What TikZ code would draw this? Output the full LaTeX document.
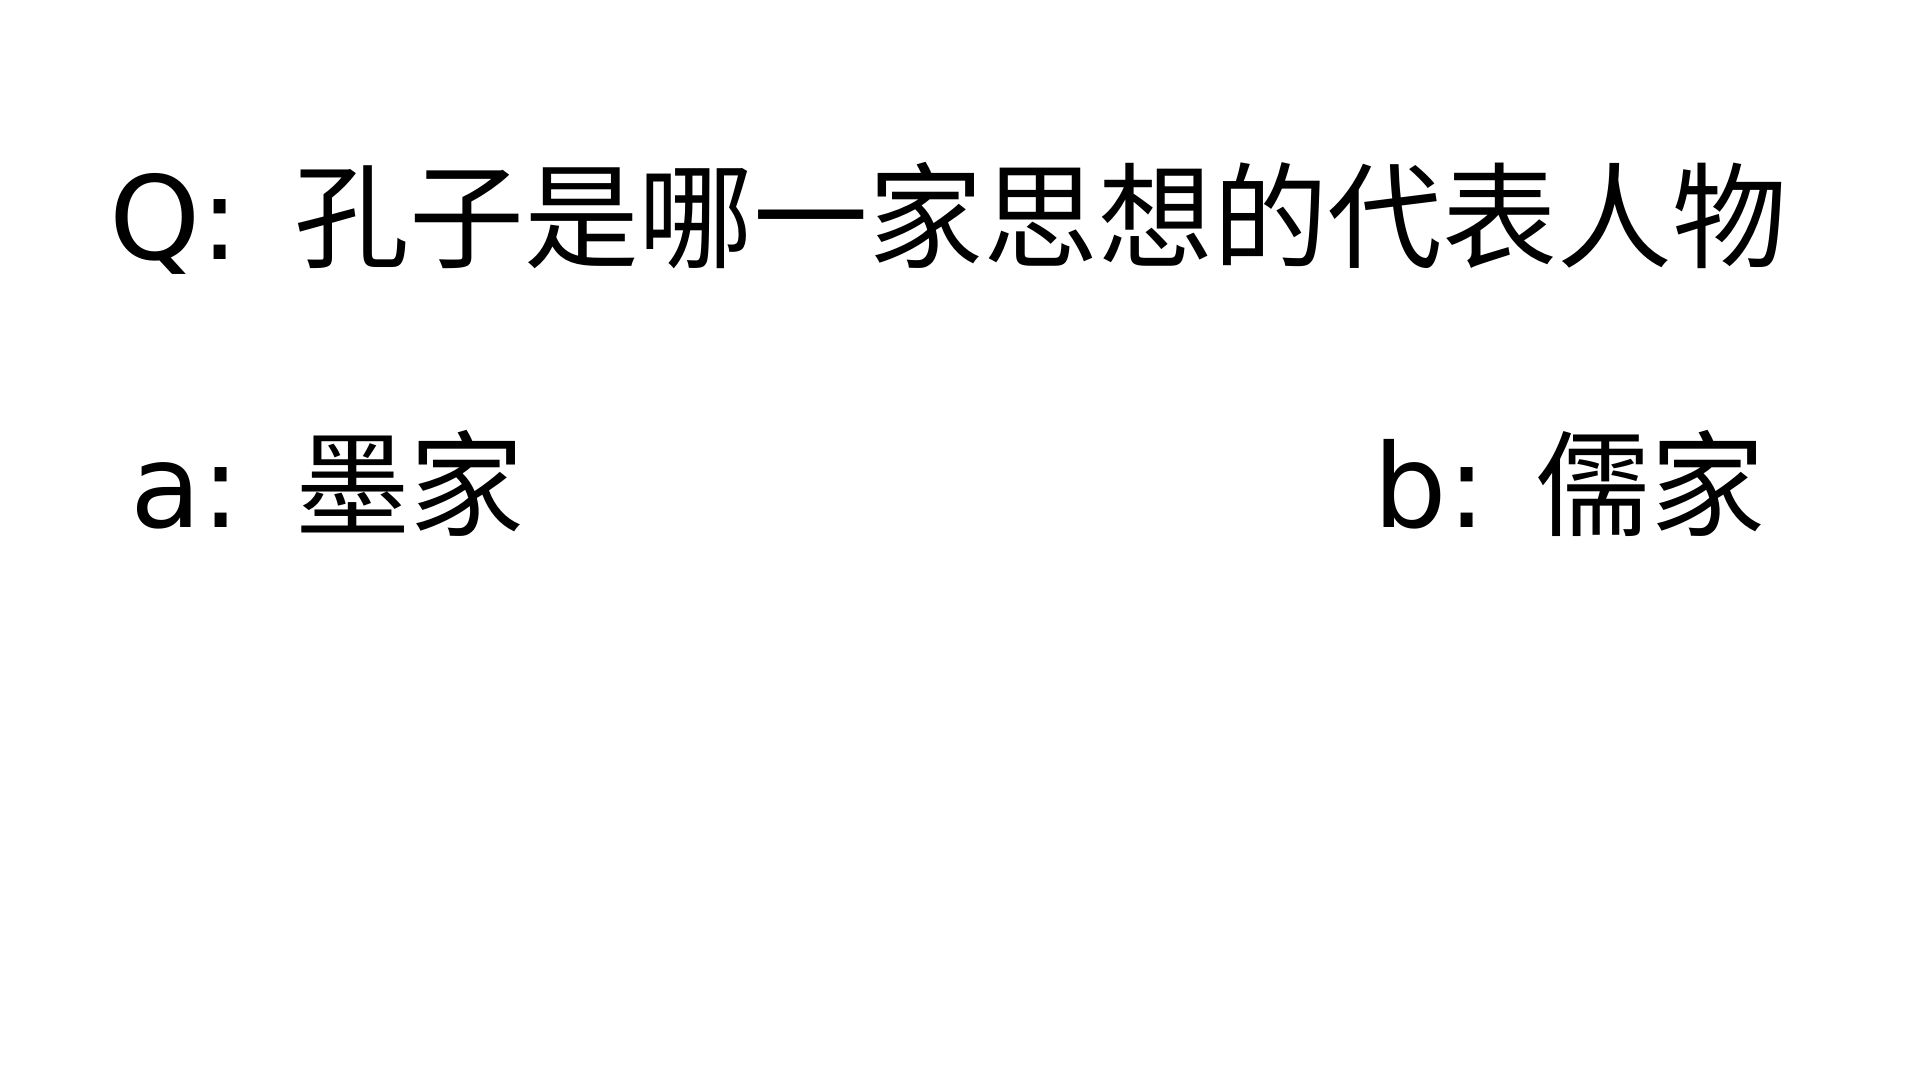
\documentclass[tikz,border=0pt]{standalone}
\usepackage{fontspec}
\setmainfont{DejaVu Sans}
\newfontfamily\cjk[Scale=0.99]{Noto Sans CJK TC}
\begin{document}
\begin{tikzpicture}[quiz/.style={anchor=base west, inner sep=0pt, font=\fontsize{33}{40}\selectfont}]
    \useasboundingbox (0,0) rectangle (19.2,10.8);
    % Question
    \node[quiz] (question) at (1.085,8.2) {Q:\hspace{0.18cm} {\cjk 孔子是哪一家思想的代表人物}};
    % Answers
    \node[quiz] (answerA) at (1.30,5.52) {a:\hspace{0.05cm} {\cjk 墨家}};
    \node[quiz] (answerB) at (13.73,5.52) {b: {\cjk 儒家}};
\end{tikzpicture}
\end{document}
